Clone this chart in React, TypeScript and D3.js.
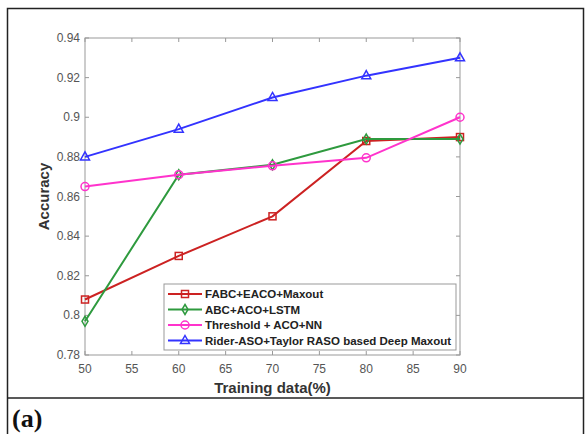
import * as d3 from 'd3';

const trainingPct = [50, 60, 70, 80, 90];
const fabcEaco = [0.808, 0.83, 0.85, 0.888, 0.89];
const abcAcoLstm = [0.797, 0.871, 0.876, 0.889, 0.889];
const thresholdAcoNn = [0.865, 0.871, 0.8755, 0.8795, 0.9];
const riderAso = [0.88, 0.894, 0.91, 0.921, 0.93];

const xTicks = [50, 55, 60, 65, 70, 75, 80, 85, 90];
const yTicks = [0.78, 0.8, 0.82, 0.84, 0.86, 0.88, 0.9, 0.92, 0.94];

const series = [
  { name: 'FABC+EACO+Maxout', values: fabcEaco, color: '#cc2222', marker: 'square' },
  { name: 'ABC+ACO+LSTM', values: abcAcoLstm, color: '#2e9a3e', marker: 'diamond' },
  { name: 'Threshold + ACO+NN', values: thresholdAcoNn, color: '#ff33cc', marker: 'circle' },
  { name: 'Rider-ASO+Taylor RASO based Deep Maxout', values: riderAso, color: '#3333ff', marker: 'triangle' },
];

function Marker({ type, x, y, color }: { type: string; x: number; y: number; color: string }) {
  const common = { fill: 'none', stroke: color, strokeWidth: 1.5 };
  if (type === 'square') return <rect x={x - 3.5} y={y - 3.5} width={7} height={7} {...common} />;
  if (type === 'circle') return <circle cx={x} cy={y} r={4} {...common} />;
  if (type === 'diamond') return <path d={`M${x},${y - 5}L${x + 3},${y}L${x},${y + 5}L${x - 3},${y}Z`} {...common} />;
  return <path d={`M${x},${y - 5}L${x + 4.5},${y + 3}L${x - 4.5},${y + 3}Z`} {...common} />;
}

export default function App() {
  const left = 85, right = 460, top = 38, bottom = 355;
  const x = d3.scaleLinear().domain([50, 90]).range([left, right]);
  const y = d3.scaleLinear().domain([0.78, 0.94]).range([bottom, top]);
  const line = d3.line<number>().x((_, i) => x(trainingPct[i])).y(d => y(d));
  const axisGray = '#555';

  return (
    <svg width={586} height={434} style={{ position: 'absolute', left: 0, top: 0, fontFamily: 'Arial, Liberation Sans, sans-serif' }}>
      <rect x={0} y={0} width={586} height={434} fill="#fff" />
      <rect x={7.5} y={8.5} width={576} height={440} fill="none" stroke="#222" strokeWidth={1.5} />
      <line x1={7} x2={584} y1={398} y2={398} stroke="#222" strokeWidth={1.5} />
      <text x={12} y={427} fontFamily="Liberation Serif, Times New Roman, serif" fontWeight="bold" fontSize={26} fill="#111">(a)</text>

      {/* axes box */}
      <rect x={left} y={top} width={right - left} height={bottom - top} fill="none" stroke="#999" strokeWidth={1} />
      {xTicks.map(t => (
        <g key={'x' + t}>
          <line x1={x(t)} x2={x(t)} y1={bottom} y2={bottom - 4} stroke="#999" />
          <line x1={x(t)} x2={x(t)} y1={top} y2={top + 4} stroke="#999" />
          <text x={x(t)} y={373} textAnchor="middle" fontSize={12} fill={axisGray}>{t}</text>
        </g>
      ))}
      {yTicks.map(t => (
        <g key={'y' + t}>
          <line x1={left} x2={left + 4} y1={y(t)} y2={y(t)} stroke="#999" />
          <line x1={right} x2={right - 4} y1={y(t)} y2={y(t)} stroke="#999" />
          <text x={left - 5} y={y(t) + 4} textAnchor="end" fontSize={12} fill={axisGray}>{d3.format('')(+t.toFixed(2))}</text>
        </g>
      ))}
      <text x={(left + right) / 2} y={393} textAnchor="middle" fontSize={15} fontWeight="bold" fill="#333">Training data(%)</text>
      <text transform={`translate(49,${(top + bottom) / 2}) rotate(-90)`} textAnchor="middle" fontSize={15} fontWeight="bold" fill="#333">Accuracy</text>

      {series.map(s => (
        <g key={s.name}>
          <path d={line(s.values) || ''} fill="none" stroke={s.color} strokeWidth={2} />
          {s.values.map((v, i) => (
            <Marker key={i} type={s.marker} x={x(trainingPct[i])} y={y(v)} color={s.color} />
          ))}
        </g>
      ))}

      {/* legend */}
      <rect x={164} y={284} width={292} height={66} fill="#fff" stroke="#999" />
      {series.map((s, i) => {
        const ly = 294 + i * 15.5;
        return (
          <g key={'l' + s.name}>
            <line x1={168} x2={202} y1={ly} y2={ly} stroke={s.color} strokeWidth={2} />
            <Marker type={s.marker} x={185} y={ly} color={s.color} />
            <text x={205} y={ly + 4} fontSize={11.5} fontWeight="bold" fill="#222">{s.name}</text>
          </g>
        );
      })}
    </svg>
  );
}
